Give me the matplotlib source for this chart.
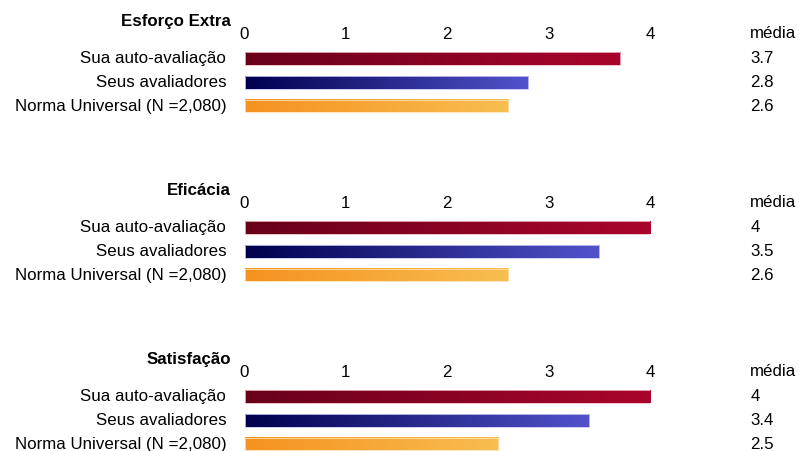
import numpy as np
import matplotlib.pyplot as plt
from matplotlib.colors import LinearSegmentedColormap
from matplotlib.patches import Rectangle

plt.rcParams['font.family'] = ['Liberation Sans', 'DejaVu Sans']

grupos = ['Esforço Extra', 'Eficácia', 'Satisfação']
linhas = ['Sua auto-avaliação', 'Seus avaliadores', 'Norma Universal (N =2,080)']
medias = [
    [3.7, 2.8, 2.6],
    [4.0, 3.5, 2.6],
    [4.0, 3.4, 2.5],
]
rotulos = [
    ['3.7', '2.8', '2.6'],
    ['4', '3.5', '2.6'],
    ['4', '3.4', '2.5'],
]
ticks = [0, 1, 2, 3, 4]

# degradê de cada série (início, fim, borda)
cores = [
    ('#68001a', '#aa052c', '#eeb8c4'),
    ('#00004e', '#5252cc', '#c8c8f2'),
    ('#f59220', '#f8be50', '#fde0b0'),
]

W, H = 799, 451
fig = plt.figure(figsize=(W / 100, H / 100), dpi=100)

x0, x4 = 244.5, 650.0      # pixel do 0 e do 4
passo = 23.75               # distância entre barras
topo = [58.7, 227.7, 396.7] # centro da primeira barra de cada grupo
alt = 0.53
fs = 12.2

grad = np.linspace(0, 1, 256).reshape(1, -1)

for g, nome in enumerate(grupos):
    y_top = topo[g] - 0.5 * passo
    y_bot = topo[g] + 2.5 * passo
    ax = fig.add_axes([x0 / W, 1 - y_bot / H, (x4 - x0) / W, (y_bot - y_top) / H])
    for s in ax.spines.values():
        s.set_visible(False)
    ax.xaxis.tick_top()
    ax.set_xticks(ticks)
    ax.set_xticklabels([str(t) for t in ticks], fontsize=fs)
    ax.tick_params(axis='x', length=0, pad=3.5)
    ax.set_yticks([])
    ax.patch.set_alpha(0)

    for i, v in enumerate(medias[g]):
        c0, c1, borda = cores[i]
        cmap = LinearSegmentedColormap.from_list('g', [c0, c1])
        ax.imshow(grad, cmap=cmap, aspect='auto',
                  extent=[0, v, i + alt / 2, i - alt / 2], interpolation='bilinear')
        ax.add_patch(Rectangle((0, i - alt / 2), v, alt, fill=False,
                               edgecolor=borda, lw=0.6))
        ax.text(-0.18, i, linhas[i], ha='right', va='center', fontsize=fs,
                clip_on=False)
        ax.text(4.99, i, rotulos[g][i], ha='left', va='center', fontsize=fs,
                clip_on=False)

    ax.set_xlim(0, 4)
    ax.set_ylim(2.5, -0.5)
    ax.text(4.99, -1.06, 'média', ha='left', va='center', fontsize=fs,
            clip_on=False)
    ax.text(-0.135, -1.56, nome, ha='right', va='center', fontsize=fs,
            fontweight='bold', clip_on=False)

fig.savefig('out.png', dpi=100)
